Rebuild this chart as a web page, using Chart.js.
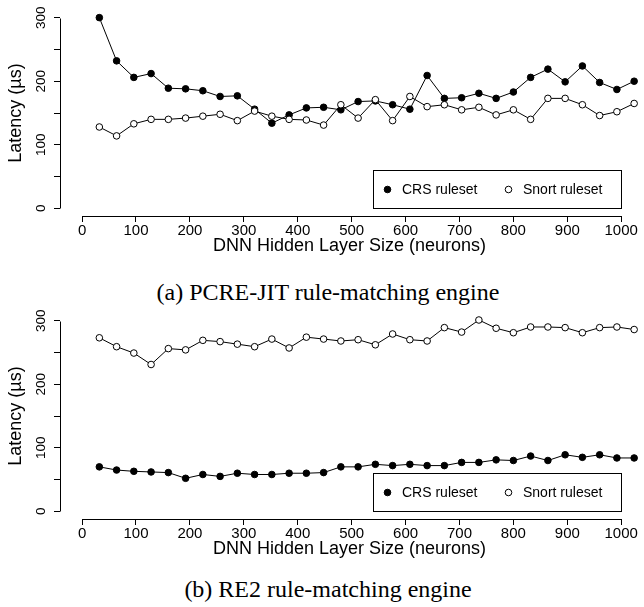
<!DOCTYPE html>
<html>
<head>
<meta charset="utf-8">
<script src="https://cdn.jsdelivr.net/npm/chart.js@4.4.0/dist/chart.umd.min.js"></script>
<style>
  body { margin: 0; background: #fff; }
  #page { position: relative; width: 644px; height: 607px; overflow: hidden; }
  canvas { position: absolute; left: 0; }
  .caption {
    position: absolute; left: 6px; width: 644px; text-align: center;
    font: 24px/1 "Liberation Serif", serif; color: #000;
  }
</style>
</head>
<body>
<div id="page">
  <canvas id="pcre" width="644" height="270" style="top:0"></canvas>
  <div class="caption" style="top:280px">(a) PCRE-JIT rule-matching engine</div>
  <canvas id="re2" width="644" height="270" style="top:303px"></canvas>
  <div class="caption" style="top:577px">(b) RE2 rule-matching engine</div>
</div>
<script>
// hidden layer sizes (x values)
const hiddenSizes = [32, 64, 96, 128, 160, 192, 224, 256, 288, 320, 352, 384, 416, 448, 480, 512,
  544, 576, 608, 640, 672, 704, 736, 768, 800, 832, 864, 896, 928, 960, 992, 1024];

// latency in microseconds
const pcreCrs = [300, 232, 206, 212, 189, 188, 185, 176, 177, 156, 134, 147, 158, 159, 155, 168,
  169, 163, 156, 209, 173, 174, 181, 173, 183, 206, 219, 199, 224, 198, 187, 200];
const pcreSnort = [128, 114, 133, 140, 140, 142, 145, 148, 138, 153, 145, 140, 139, 131, 163, 142,
  171, 138, 176, 160, 163, 155, 159, 147, 155, 140, 173, 173, 163, 146, 152, 165];
const re2Crs = [70, 65, 63, 62, 61, 52, 58, 55, 60, 58, 58, 60, 60, 61, 70, 70,
  74, 72, 74, 72, 72, 77, 77, 81, 80, 87, 80, 89, 85, 89, 84, 84];
const re2Snort = [273, 259, 249, 231, 256, 254, 269, 267, 263, 259, 271, 257, 274, 271, 268, 270,
  262, 279, 270, 268, 289, 282, 301, 288, 281, 290, 290, 289, 281, 289, 290, 286];

const seriesNames = ["CRS ruleset", "Snort ruleset"];
const xTicks = [0, 100, 200, 300, 400, 500, 600, 700, 800, 900, 1000];
const yTicks = [0, 50, 100, 150, 200, 250, 300];
const yLabels = ["0", "", "100", "", "200", "", "300"];

const SANS = "'Liberation Sans', Arial, sans-serif";

// R style axes: the axis line only spans the first..last tick, plus a boxed legend
const rStyle = {
  id: "rStyle",
  afterDatasetsDraw(chart) {
    const { ctx, chartArea, scales: { x, y } } = chart;
    ctx.save();
    ctx.strokeStyle = "#000";
    ctx.lineWidth = 1;
    ctx.beginPath();
    const yb = Math.round(chartArea.bottom) + 0.5;
    ctx.moveTo(Math.round(x.getPixelForValue(xTicks[0])) + 0.5, yb);
    ctx.lineTo(Math.round(x.getPixelForValue(xTicks[xTicks.length - 1])) + 0.5, yb);
    const xl = Math.round(chartArea.left) + 0.5;
    ctx.moveTo(xl, Math.round(y.getPixelForValue(yTicks[0])) + 0.5);
    ctx.lineTo(xl, Math.round(y.getPixelForValue(yTicks[yTicks.length - 1])) + 0.5);
    ctx.stroke();

    // legend, anchored at bottom right (1000, 0)
    const w = 248, h = 38;
    const right = Math.round(x.getPixelForValue(1000)) + 0.5;
    const bottom = Math.round(y.getPixelForValue(0)) + 0.5;
    const left = right - w, top = bottom - h;
    ctx.fillStyle = "#fff";
    ctx.fillRect(left, top, w, h);
    ctx.strokeRect(left, top, w, h);
    ctx.font = "14px " + SANS;
    ctx.textBaseline = "middle";
    ctx.textAlign = "left";
    const offsets = [14, 135];
    chart.data.datasets.forEach((ds, i) => {
      const cx = left + offsets[i];
      const cy = top + h / 2;
      ctx.beginPath();
      ctx.arc(cx, cy, 3.3, 0, Math.PI * 2);
      ctx.fillStyle = ds.pointBackgroundColor;
      ctx.fill();
      ctx.stroke();
      ctx.fillStyle = "#000";
      ctx.fillText(ds.label, cx + 14.5, cy + 0.5);
    });
    ctx.restore();
  }
};

function makeChart(id, crs, snort) {
  const tickGrid = { drawOnChartArea: false, drawTicks: true, tickLength: 6, color: "#000", lineWidth: 1 };
  return new Chart(document.getElementById(id), {
    type: "line",
    data: {
      datasets: [
        {
          label: seriesNames[0],
          data: hiddenSizes.map((v, i) => ({ x: v, y: crs[i] })),
          borderColor: "#000",
          borderWidth: 1,
          pointRadius: 3.3,
          pointBorderWidth: 1,
          pointBorderColor: "#000",
          pointBackgroundColor: "#000",
          clip: false,
          order: 1,
        },
        {
          label: seriesNames[1],
          data: hiddenSizes.map((v, i) => ({ x: v, y: snort[i] })),
          borderColor: "#000",
          borderWidth: 1,
          pointRadius: 3.3,
          pointBorderWidth: 1,
          pointBorderColor: "#000",
          pointBackgroundColor: "#fff",
          clip: false,
          order: 0,
        },
      ],
    },
    options: {
      responsive: false,
      animation: false,
      devicePixelRatio: 1,
      layout: { padding: { top: 10, right: 0, left: 0, bottom: 0 } },
      plugins: { legend: { display: false }, tooltip: { enabled: false } },
      scales: {
        x: {
          type: "linear",
          min: -40.96,
          max: 1033,
          afterBuildTicks: (s) => { s.ticks = xTicks.map((v) => ({ value: v })); },
          afterFit: (s) => { s.height = 54; },
          grid: tickGrid,
          border: { display: false },
          ticks: {
            color: "#000",
            font: { family: SANS, size: 15 },
            padding: 0,
            autoSkip: false,
            maxRotation: 0,
            callback: (v) => String(v),
          },
          title: {
            display: true,
            text: "DNN Hidden Layer Size (neurons)",
            color: "#000",
            font: { family: SANS, size: 18 },
            padding: { top: 0, bottom: 13 },
          },
        },
        y: {
          type: "linear",
          min: -12,
          max: 312,
          afterBuildTicks: (s) => { s.ticks = yTicks.map((v) => ({ value: v })); },
          afterFit: (s) => { s.width = 60; },
          grid: tickGrid,
          border: { display: false },
          ticks: {
            color: "#000",
            font: { family: SANS, size: 13.5 },
            padding: 1,
            autoSkip: false,
            minRotation: 90,
            maxRotation: 90,
            crossAlign: "center",
            callback: (v, i) => yLabels[i],
          },
          title: {
            display: true,
            text: "Latency (µs)",
            color: "#000",
            font: { family: SANS, size: 18 },
            padding: { top: 5, bottom: 0 },
          },
        },
      },
    },
    plugins: [rStyle],
  });
}

makeChart("pcre", pcreCrs, pcreSnort);
makeChart("re2", re2Crs, re2Snort);
</script>
</body>
</html>
